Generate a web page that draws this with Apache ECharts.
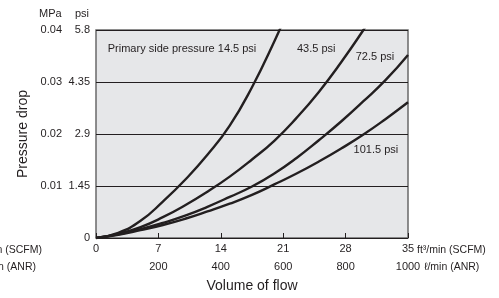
<!DOCTYPE html>
<html>
<head>
<meta charset="utf-8">
<script src="https://cdn.jsdelivr.net/npm/echarts@6/dist/echarts.min.js"></script>
<style>
html, body { margin: 0; padding: 0; background: #fff; }
#chart { width: 499px; height: 298px; }
</style>
</head>
<body>
<div id="chart"></div>
<script>
// flow in ft3/min (SCFM), pressure drop in MPa
const curve145 = [[0, 0], [2.5, 0.001], [5, 0.0033], [7.5, 0.007], [10, 0.0112], [12.5, 0.016], [15, 0.0216], [17.5, 0.029], [20, 0.0378], [22, 0.0455]];
const curve435 = [[0, 0], [2.5, 0.0008], [5, 0.0021], [7.5, 0.004], [10, 0.0063], [12.5, 0.0089], [15, 0.0118], [17.5, 0.0151], [20, 0.0187], [22.5, 0.0231], [25, 0.0281], [27.5, 0.0338], [30, 0.04], [31, 0.0427]];
const curve725 = [[0, 0], [2.5, 0.0007], [5, 0.0017], [7.5, 0.0029], [10, 0.0043], [12.5, 0.006], [15, 0.0079], [17.5, 0.0099], [20, 0.0124], [22.5, 0.0154], [25, 0.0188], [27.5, 0.0224], [30, 0.0263], [32.5, 0.0304], [35, 0.0352]];
const curve1015 = [[0, 0], [2.5, 0.0006], [5, 0.0015], [7.5, 0.0025], [10, 0.0037], [12.5, 0.0051], [15, 0.0066], [17.5, 0.0083], [20, 0.0103], [22.5, 0.0124], [25, 0.0147], [27.5, 0.0172], [30, 0.0199], [32.5, 0.0229], [35, 0.0261]];

const seriesNames = ['Primary side pressure 14.5 psi', '43.5 psi', '72.5 psi', '101.5 psi'];
const labelCoords = [[9.65, 0.0364], [24.7, 0.0364], [31.3, 0.0349], [31.4, 0.017]];

const scfmTicks = [0, 7, 14, 21, 28, 35];
const anrTicks = [0, 200, 400, 600, 800, 1000];
const mpaTicks = [0, 0.01, 0.02, 0.03, 0.04];
const psiTicks = [0, 1.45, 2.9, 4.35, 5.8];

const ink = '#231f20';
const font = 'Liberation Sans, Arial, sans-serif';

function makeSeries(name, data, coord) {
  return {
    name: name,
    type: 'line',
    data: data,
    smooth: true,
    showSymbol: false,
    clip: true,
    lineStyle: { color: ink, width: 2.4 },
    markPoint: {
      symbolSize: 0,
      data: [{ coord: coord, name: name }],
      label: { show: true, position: 'inside', formatter: name, color: ink, fontSize: 11, fontFamily: font }
    }
  };
}

const option = {
  animation: false,
  textStyle: { fontFamily: font, color: ink },
  grid: {
    left: 96, top: 30, width: 312, height: 210,
    show: true, backgroundColor: '#e6e7e9', borderColor: '#6a6a6a', borderWidth: 1.5
  },
  xAxis: [
    {
      type: 'value', min: scfmTicks[0], max: scfmTicks[scfmTicks.length - 1], interval: 7,
      axisLine: { show: false },
      axisTick: { show: true, inside: true, length: 5, lineStyle: { color: ink } },
      axisLabel: { margin: 5, fontSize: 11, color: ink, fontFamily: font },
      splitLine: { show: false }
    },
    {
      type: 'value', position: 'bottom', offset: 18,
      min: anrTicks[0], max: anrTicks[anrTicks.length - 1], interval: 200,
      axisLine: { show: false }, axisTick: { show: false },
      axisLabel: { margin: 5, fontSize: 11, color: ink, fontFamily: font, formatter: v => v === 0 ? '' : String(v) },
      splitLine: { show: false },
      name: 'Volume of flow', nameLocation: 'middle', nameGap: 23,
      nameTextStyle: { fontSize: 14, color: ink, fontFamily: font }
    }
  ],
  yAxis: [
    {
      type: 'value', min: mpaTicks[0], max: mpaTicks[mpaTicks.length - 1], interval: 0.01,
      axisLine: { show: false }, axisTick: { show: false },
      axisLabel: { margin: 34, fontSize: 11, color: ink, fontFamily: font, formatter: v => v === 0 ? '' : v.toFixed(2) },
      splitLine: { show: true, lineStyle: { color: ink, width: 1 } },
      name: 'Pressure drop', nameLocation: 'middle', nameGap: 66, nameRotate: 90,
      nameTextStyle: { fontSize: 14, color: ink, fontFamily: font }
    },
    {
      type: 'value', position: 'left', min: psiTicks[0], max: psiTicks[psiTicks.length - 1], interval: 1.45,
      axisLine: { show: false }, axisTick: { show: false },
      axisLabel: { margin: 6, fontSize: 11, color: ink, fontFamily: font, formatter: v => String(parseFloat(v.toFixed(2))) },
      splitLine: { show: false }
    }
  ],
  graphic: [
    { type: 'text', left: 39, top: 8, style: { text: 'MPa', fill: ink, font: '11px ' + font } },
    { type: 'text', left: 75, top: 8, style: { text: 'psi', fill: ink, font: '11px ' + font } },
    { type: 'text', left: 417, top: 245, style: { text: 'ft³/min (SCFM)', fill: ink, font: '10.5px ' + font } },
    { type: 'text', left: 424, top: 262, style: { text: 'ℓ/min (ANR)', fill: ink, font: '10.5px ' + font } },
    { type: 'text', x: 42, y: 245, style: { text: 'ft³/min (SCFM)', fill: ink, align: 'right', font: '10.5px ' + font } },
    { type: 'text', x: 36, y: 262, style: { text: 'ℓ/min (ANR)', fill: ink, align: 'right', font: '10.5px ' + font } }
  ],
  series: [
    makeSeries(seriesNames[0], curve145, labelCoords[0]),
    makeSeries(seriesNames[1], curve435, labelCoords[1]),
    makeSeries(seriesNames[2], curve725, labelCoords[2]),
    makeSeries(seriesNames[3], curve1015, labelCoords[3])
  ]
};

const chart = echarts.init(document.getElementById('chart'));
chart.setOption(option);
</script>
</body>
</html>
